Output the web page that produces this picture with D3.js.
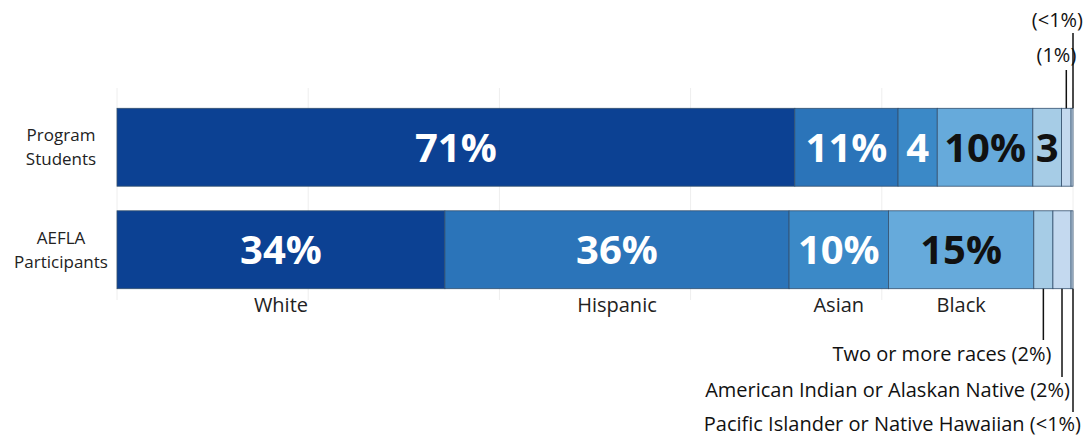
<!DOCTYPE html>
<html>
<head>
<meta charset="utf-8">
<script src="https://cdn.jsdelivr.net/npm/d3@7"></script>
<style>
  body { margin: 0; background: #fff; }
  text { font-family: "Open Sans", sans-serif; }
</style>
</head>
<body>
<svg id="chart" width="1087" height="437"></svg>
<script>
// groups (rows) and race categories
const groups = ["Program Students", "AEFLA Participants"]
const races = ["White", "Hispanic", "Asian", "Black", "Two or more races",
  "American Indian or Alaskan Native", "Pacific Islander or Native Hawaiian"]

// percent values
const programValues = [70.9, 10.8, 4.1, 10, 3, 1, 0.2]
const aeflaValues = [34.3, 36, 10.4, 15.2, 2, 1.9, 0.2]

// labels shown inside the segments ("" = none)
const programLabels = ["71%", "11%", "4", "10%", "3", "", ""]
const aeflaLabels = ["34%", "36%", "10%", "15%", "", "", ""]

// callouts for the small slices
const programCallouts = ["", "", "", "", "", "(1%)", "(<1%)"]
const aeflaCallouts = ["", "", "", "", "Two or more races (2%)",
  "American Indian or Alaskan Native (2%)", "Pacific Islander or Native Hawaiian (<1%)"]

const colors = ["#0c4193", "#2b74b9", "#3b89c7", "#66aadb", "#a6cce6", "#c4d9ef", "#d3e2f2"]
const darkText = [false, false, false, true, true, true, true]

const svg = d3.select("#chart")

const x = d3.scaleLinear().domain([0, 100]).range([117, 1073])
const y = d3.scaleBand().domain(groups).range([96, 301]).paddingInner(0.24).paddingOuter(0.12)

// stack up the rows
function stackRow(values, labels, callouts) {
  let acc = 0
  return values.map((v, i) => {
    const d = {race: races[i], x0: acc, x1: acc + v, label: labels[i], callout: callouts[i], i: i}
    acc += v
    return d
  })
}
const rows = [
  {group: groups[0], segs: stackRow(programValues, programLabels, programCallouts)},
  {group: groups[1], segs: stackRow(aeflaValues, aeflaLabels, aeflaCallouts)}
]

// faint vertical gridlines
svg.append("g")
  .selectAll("line")
  .data(x.ticks(5))
  .enter()
  .append("line")
  .attr("x1", d => x(d)).attr("x2", d => x(d))
  .attr("y1", 88).attr("y2", 300)
  .attr("stroke", "#eeeeee")
  .attr("stroke-width", 1)

const rowG = svg.selectAll(".row")
  .data(rows)
  .enter()
  .append("g")
  .attr("class", "row")
  .attr("transform", d => `translate(0,${y(d.group)})`)

rowG.selectAll("rect")
  .data(d => d.segs)
  .enter()
  .append("rect")
  .attr("x", d => x(d.x0))
  .attr("width", d => Math.max(x(d.x1) - x(d.x0), 1))
  .attr("y", 0)
  .attr("height", y.bandwidth())
  .attr("fill", d => colors[d.i])
  .attr("stroke", "#34506e")
  .attr("stroke-width", 0.8)

rowG.selectAll(".val")
  .data(d => d.segs.filter(s => s.label))
  .enter()
  .append("text")
  .attr("class", "val")
  .attr("x", d => (x(d.x0) + x(d.x1)) / 2)
  .attr("y", y.bandwidth() / 2)
  .attr("dy", "0.36em")
  .attr("text-anchor", "middle")
  .attr("font-size", 40)
  .attr("font-weight", "bold")
  .attr("fill", d => darkText[d.i] ? "#111" : "#fff")
  .text(d => d.label)

// row labels on the left, two lines each
groups.forEach(g => {
  const parts = g.split(" ")
  const mid = y(g) + y.bandwidth() / 2
  parts.forEach((p, i) => {
    svg.append("text")
      .attr("x", 61)
      .attr("y", mid - 6 + i * 24)
      .attr("text-anchor", "middle")
      .attr("font-size", 17)
      .attr("fill", "#222")
      .text(p)
  })
})

// category names under the lower bar
const bottomRow = rows[1]
svg.selectAll(".cat")
  .data(bottomRow.segs.slice(0, 4))
  .enter()
  .append("text")
  .attr("class", "cat")
  .attr("x", d => (x(d.x0) + x(d.x1)) / 2)
  .attr("y", y(groups[1]) + y.bandwidth() + 23)
  .attr("text-anchor", "middle")
  .attr("font-size", 20)
  .attr("fill", "#222")
  .text(d => d.race)

// callouts: lower bar goes downward
const downSegs = bottomRow.segs.filter(s => s.callout)
const downEnds = [340, 377, 412]
const downBase = [361, 397, 431]
downSegs.forEach((d, k) => {
  const cx = k == 2 ? x(d.x1) : (x(d.x0) + x(d.x1)) / 2
  const top = y(groups[1]) + y.bandwidth()
  svg.append("line")
    .attr("x1", cx).attr("x2", cx)
    .attr("y1", top).attr("y2", downEnds[k])
    .attr("stroke", "#111").attr("stroke-width", 1.5)
  svg.append("text")
    .attr("x", cx + 8)
    .attr("y", downBase[k])
    .attr("text-anchor", "end")
    .attr("font-size", 20)
    .attr("fill", "#111")
    .text(d.callout)
})

// callouts: upper bar goes upward
const upSegs = rows[0].segs.filter(s => s.callout)
const upEnds = [70, 33]
const upBase = [62, 27]
upSegs.forEach((d, k) => {
  const cx = k == 1 ? x(d.x1) : (x(d.x0) + x(d.x1)) / 2
  const bottom = y(groups[0])
  svg.append("line")
    .attr("x1", cx).attr("x2", cx)
    .attr("y1", bottom).attr("y2", upEnds[k])
    .attr("stroke", "#111").attr("stroke-width", 1.5)
  svg.append("text")
    .attr("x", cx + 10)
    .attr("y", upBase[k])
    .attr("text-anchor", "end")
    .attr("font-size", 20)
    .attr("fill", "#111")
    .text(d.callout)
})
</script>
</body>
</html>
